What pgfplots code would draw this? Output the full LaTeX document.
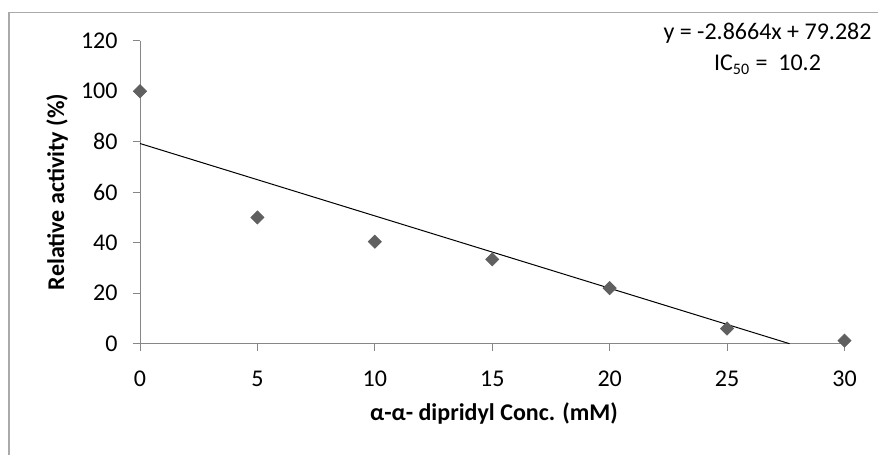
\documentclass[border=0pt]{standalone}
\usepackage{pgfplots}
\pgfplotsset{compat=1.18}
\usepackage{fontspec}
\setmainfont{Carlito}
\definecolor{axgray}{RGB}{134,134,134}
\definecolor{mk}{RGB}{96,96,96}
\definecolor{frm}{RGB}{170,170,170}
\newcommand{\chf}{\fontsize{12}{14}\selectfont}
\begin{document}
\begin{tikzpicture}
\useasboundingbox (0,0) rectangle (439pt,227.5pt);
\draw[frm, line width=0.6pt] (4.5pt,-5pt) -- (4.5pt,221.15pt) -- (445pt,221.15pt);
\begin{axis}[
  at={(70pt,55.65pt)}, anchor=south west,
  scale only axis, width=352.25pt, height=151.5pt,
  xmin=0, xmax=30, ymin=0, ymax=120,
  axis lines=left,
  axis line style={-, axgray, line width=0.5pt},
  xtick={0,5,...,30}, ytick={0,20,...,120},
  tick align=outside, major tick length=3.7pt,
  major tick style={axgray, line width=0.5pt},
  /pgf/number format/assume math mode=true,
  tick label style={font=\chf, text=black},
  xticklabel style={anchor=center, yshift=-14pt},
  yticklabel style={anchor=east, xshift=-4pt},
  clip=false,
]
\addplot[black, line width=0.5pt] coordinates {(0,79.282) (27.66,0)};
\addplot[only marks, mark=square*, mark size=2.3pt,
  mark options={rotate=45, fill=mk, draw=mk}]
  coordinates {(0,100) (5,50) (10,40.4) (15,33.4) (20,22) (25,6) (30,1.2)};
\end{axis}
\node[anchor=center, inner sep=0pt, font=\chf\bfseries] at (247pt,21pt) {α-α- dipridyl Conc. (mM)};
\node[anchor=center, inner sep=0pt, rotate=90, font=\chf\bfseries] at (28.5pt,131.5pt) {Relative activity (\%)};
\node[anchor=center, inner sep=0pt, font=\chf] at (383.75pt,211pt) {y = -2.8664x + 79.282};
\node[anchor=center, inner sep=0pt, font=\chf] at (383.75pt,195pt) {IC\textsubscript{50} =~ 10.2};
\end{tikzpicture}
\end{document}
